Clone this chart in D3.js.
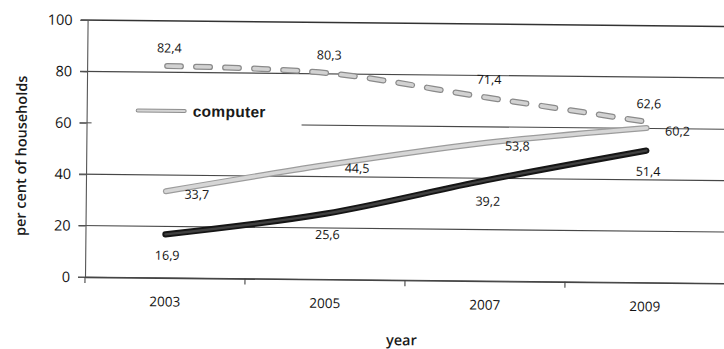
<!DOCTYPE html>
<html>
<head>
<meta charset="utf-8">
<script src="https://cdn.jsdelivr.net/npm/d3@7"></script>
<style>
  html, body { margin: 0; padding: 0; background: #ffffff; }
  svg { display: block; }
</style>
</head>
<body>
<svg id="chart" width="724" height="349"></svg>
<script>
// Household equipment, share of households (%)
const years = ["2003", "2005", "2007", "2009"];
const seriesDashed = [82.4, 80.3, 71.4, 62.6];
const computer = [33.7, 44.5, 53.8, 60.2];
const seriesDark = [16.9, 25.6, 39.2, 51.4];
const yTicks = [0, 20, 40, 60, 80, 100];
const legendLabels = ["computer"];

const svg = d3.select("#chart");
const plotLeft = 85, plotRight = 725, plotTop = 20, plotBottom = 277;

// the printed figure sits slightly tilted on the page
const root = svg.append("g").attr("transform", `rotate(0.58, ${plotLeft}, ${plotBottom})`);

const x = d3.scaleBand().domain(years).range([plotLeft, plotRight]).padding(0);
const y = d3.scaleLinear().domain([0, 100]).range([plotBottom, plotTop]);
const cx = d => x(d) + x.bandwidth() / 2;

const numFont = "'Open Sans', 'DejaVu Sans', sans-serif";
const textColor = "#141414";
const fmt = v => v.toFixed(1).replace(".", ",");

// horizontal gridlines with short outward ticks
root.append("g").selectAll("line").data(yTicks).join("line")
  .attr("x1", plotLeft - 7).attr("x2", plotRight)
  .attr("y1", d => y(d)).attr("y2", d => y(d))
  .attr("stroke", d => d === 100 ? "#333" : "#474747")
  .attr("stroke-width", d => d === 100 ? 1.5 : 1.1);

// y axis
const yAxis = root.append("g").attr("transform", `translate(${plotLeft},0)`)
  .call(d3.axisLeft(y).tickValues(yTicks).tickSize(7).tickPadding(8).tickFormat(d3.format("d")));
yAxis.select(".domain").attr("stroke", "#555").attr("stroke-width", 1.1);
yAxis.selectAll(".tick line").attr("stroke", "#555");
yAxis.selectAll("text").attr("font-family", numFont).attr("font-size", 14.5).attr("fill", textColor);

// x axis: ticks between categories
const xAxis = root.append("g").attr("transform", `translate(0,${plotBottom})`)
  .call(d3.axisBottom(x).tickSize(0).tickPadding(19));
xAxis.select(".domain").attr("stroke", "#444").attr("stroke-width", 1.3);
xAxis.selectAll("text").attr("font-family", numFont).attr("font-size", 13.5).attr("fill", textColor);
root.append("g").selectAll("line").data(years).join("line")
  .attr("x1", d => x(d)).attr("x2", d => x(d))
  .attr("y1", plotBottom).attr("y2", plotBottom + 6)
  .attr("stroke", "#444").attr("stroke-width", 1.1);

// legend panel
const legend = root.append("g");
legend.append("rect").attr("x", 90).attr("y", 94).attr("width", 210).attr("height", 40).attr("fill", "#ffffff");
legend.selectAll("g.entry").data(legendLabels).join("g").attr("class", "entry")
  .each(function(d) {
    const g = d3.select(this);
    g.append("line").attr("x1", 136).attr("x2", 183).attr("y1", 110).attr("y2", 110)
      .attr("stroke", "#8e8e8e").attr("stroke-width", 4).attr("stroke-linecap", "round");
    g.append("line").attr("x1", 136).attr("x2", 183).attr("y1", 110).attr("y2", 110)
      .attr("stroke", "#d4d4d4").attr("stroke-width", 2).attr("stroke-linecap", "round");
    g.append("text").attr("x", 191).attr("y", 110).attr("dy", "0.36em")
      .attr("font-family", "'Liberation Sans', Arial, sans-serif").attr("font-weight", "bold")
      .attr("font-size", 15.5).attr("fill", "#1a1a1a").attr("letter-spacing", 0.3).text(d);
  });

const line = d3.line()
  .x((d, i) => cx(years[i]))
  .y(d => y(d))
  .curve(d3.curveCatmullRom.alpha(0.5));

function drawSeries(values, outer, inner, wOuter, wInner, dash) {
  const g = root.append("g");
  [[outer, wOuter], [inner, wInner]].forEach(([c, w]) => {
    g.append("path").datum(values).attr("d", line)
      .attr("fill", "none").attr("stroke", c).attr("stroke-width", w)
      .attr("stroke-linecap", "round").attr("stroke-linejoin", "round")
      .attr("stroke-dasharray", dash || null);
  });
}

drawSeries(seriesDashed, "#8a8a8a", "#d2d2d2", 6, 3.6, "14 15");
drawSeries(computer, "#9c9c9c", "#d6d6d6", 6, 3.6, null);
drawSeries(seriesDark, "#151515", "#404040", 6.2, 2.4, null);

// value labels
function labels(values, dx, dy) {
  root.append("g").selectAll("text").data(values).join("text")
    .attr("x", (d, i) => cx(years[i]) + dx)
    .attr("y", d => y(d) + dy)
    .attr("dy", "0.35em")
    .attr("text-anchor", "middle")
    .attr("font-family", numFont).attr("font-size", 12.5).attr("fill", textColor)
    .text(fmt);
}
labels(seriesDashed, 2, -18);
labels(computer, 31, 3);
labels(seriesDark, 2, 21);

// axis titles
root.append("text")
  .attr("transform", `translate(20, ${(plotTop + plotBottom) / 2 + 8}) rotate(-90)`)
  .attr("text-anchor", "middle").attr("dy", "0.35em")
  .attr("font-family", numFont).attr("font-size", 14.5).attr("font-weight", 600).attr("fill", "#1a1a1a")
  .text("per cent of households");

root.append("text")
  .attr("x", 402).attr("y", 337).attr("dy", "0.35em").attr("text-anchor", "middle")
  .attr("font-family", numFont).attr("font-size", 14.5).attr("font-weight", 600).attr("fill", "#1a1a1a")
  .text("year");
</script>
</body>
</html>
